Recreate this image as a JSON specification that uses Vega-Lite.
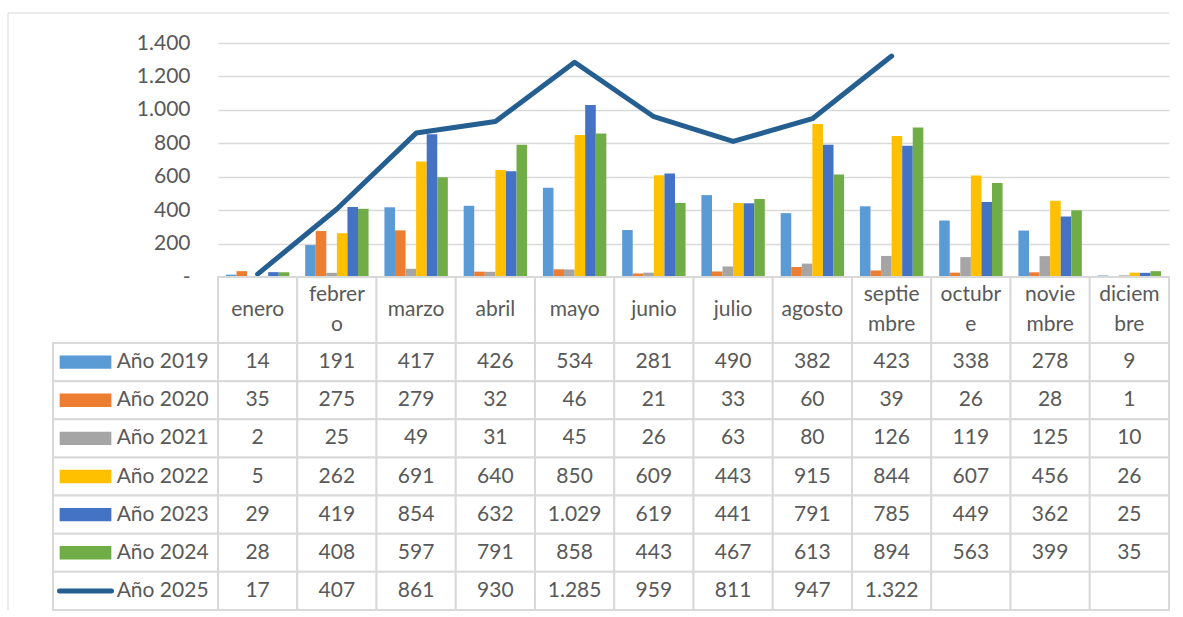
{
  "$schema": "https://vega.github.io/schema/vega-lite/v6.json",
  "padding": {"left": 7, "top": 12, "right": 0, "bottom": 0},
  "config": {
    "font": "Lato",
    "view": {"stroke": null},
    "locale": {"number": {"decimal": ",", "thousands": ".", "grouping": [3], "currency": ["", " €"]}}
  },
  "datasets": {
    "vacio": [{}],
    "meses": [
      {"mes": "enero", "etiqueta": "enero"},
      {"mes": "febrero", "etiqueta": "febrer\no"},
      {"mes": "marzo", "etiqueta": "marzo"},
      {"mes": "abril", "etiqueta": "abril"},
      {"mes": "mayo", "etiqueta": "mayo"},
      {"mes": "junio", "etiqueta": "junio"},
      {"mes": "julio", "etiqueta": "julio"},
      {"mes": "agosto", "etiqueta": "agosto"},
      {"mes": "septiembre", "etiqueta": "septie\nmbre"},
      {"mes": "octubre", "etiqueta": "octubr\ne"},
      {"mes": "noviembre", "etiqueta": "novie\nmbre"},
      {"mes": "diciembre", "etiqueta": "diciem\nbre"}
    ],
    "valores": [
      {"serie": "Año 2019", "mes": "enero", "valor": 14},
      {"serie": "Año 2019", "mes": "febrero", "valor": 191},
      {"serie": "Año 2019", "mes": "marzo", "valor": 417},
      {"serie": "Año 2019", "mes": "abril", "valor": 426},
      {"serie": "Año 2019", "mes": "mayo", "valor": 534},
      {"serie": "Año 2019", "mes": "junio", "valor": 281},
      {"serie": "Año 2019", "mes": "julio", "valor": 490},
      {"serie": "Año 2019", "mes": "agosto", "valor": 382},
      {"serie": "Año 2019", "mes": "septiembre", "valor": 423},
      {"serie": "Año 2019", "mes": "octubre", "valor": 338},
      {"serie": "Año 2019", "mes": "noviembre", "valor": 278},
      {"serie": "Año 2019", "mes": "diciembre", "valor": 9},
      {"serie": "Año 2020", "mes": "enero", "valor": 35},
      {"serie": "Año 2020", "mes": "febrero", "valor": 275},
      {"serie": "Año 2020", "mes": "marzo", "valor": 279},
      {"serie": "Año 2020", "mes": "abril", "valor": 32},
      {"serie": "Año 2020", "mes": "mayo", "valor": 46},
      {"serie": "Año 2020", "mes": "junio", "valor": 21},
      {"serie": "Año 2020", "mes": "julio", "valor": 33},
      {"serie": "Año 2020", "mes": "agosto", "valor": 60},
      {"serie": "Año 2020", "mes": "septiembre", "valor": 39},
      {"serie": "Año 2020", "mes": "octubre", "valor": 26},
      {"serie": "Año 2020", "mes": "noviembre", "valor": 28},
      {"serie": "Año 2020", "mes": "diciembre", "valor": 1},
      {"serie": "Año 2021", "mes": "enero", "valor": 2},
      {"serie": "Año 2021", "mes": "febrero", "valor": 25},
      {"serie": "Año 2021", "mes": "marzo", "valor": 49},
      {"serie": "Año 2021", "mes": "abril", "valor": 31},
      {"serie": "Año 2021", "mes": "mayo", "valor": 45},
      {"serie": "Año 2021", "mes": "junio", "valor": 26},
      {"serie": "Año 2021", "mes": "julio", "valor": 63},
      {"serie": "Año 2021", "mes": "agosto", "valor": 80},
      {"serie": "Año 2021", "mes": "septiembre", "valor": 126},
      {"serie": "Año 2021", "mes": "octubre", "valor": 119},
      {"serie": "Año 2021", "mes": "noviembre", "valor": 125},
      {"serie": "Año 2021", "mes": "diciembre", "valor": 10},
      {"serie": "Año 2022", "mes": "enero", "valor": 5},
      {"serie": "Año 2022", "mes": "febrero", "valor": 262},
      {"serie": "Año 2022", "mes": "marzo", "valor": 691},
      {"serie": "Año 2022", "mes": "abril", "valor": 640},
      {"serie": "Año 2022", "mes": "mayo", "valor": 850},
      {"serie": "Año 2022", "mes": "junio", "valor": 609},
      {"serie": "Año 2022", "mes": "julio", "valor": 443},
      {"serie": "Año 2022", "mes": "agosto", "valor": 915},
      {"serie": "Año 2022", "mes": "septiembre", "valor": 844},
      {"serie": "Año 2022", "mes": "octubre", "valor": 607},
      {"serie": "Año 2022", "mes": "noviembre", "valor": 456},
      {"serie": "Año 2022", "mes": "diciembre", "valor": 26},
      {"serie": "Año 2023", "mes": "enero", "valor": 29},
      {"serie": "Año 2023", "mes": "febrero", "valor": 419},
      {"serie": "Año 2023", "mes": "marzo", "valor": 854},
      {"serie": "Año 2023", "mes": "abril", "valor": 632},
      {"serie": "Año 2023", "mes": "mayo", "valor": 1029},
      {"serie": "Año 2023", "mes": "junio", "valor": 619},
      {"serie": "Año 2023", "mes": "julio", "valor": 441},
      {"serie": "Año 2023", "mes": "agosto", "valor": 791},
      {"serie": "Año 2023", "mes": "septiembre", "valor": 785},
      {"serie": "Año 2023", "mes": "octubre", "valor": 449},
      {"serie": "Año 2023", "mes": "noviembre", "valor": 362},
      {"serie": "Año 2023", "mes": "diciembre", "valor": 25},
      {"serie": "Año 2024", "mes": "enero", "valor": 28},
      {"serie": "Año 2024", "mes": "febrero", "valor": 408},
      {"serie": "Año 2024", "mes": "marzo", "valor": 597},
      {"serie": "Año 2024", "mes": "abril", "valor": 791},
      {"serie": "Año 2024", "mes": "mayo", "valor": 858},
      {"serie": "Año 2024", "mes": "junio", "valor": 443},
      {"serie": "Año 2024", "mes": "julio", "valor": 467},
      {"serie": "Año 2024", "mes": "agosto", "valor": 613},
      {"serie": "Año 2024", "mes": "septiembre", "valor": 894},
      {"serie": "Año 2024", "mes": "octubre", "valor": 563},
      {"serie": "Año 2024", "mes": "noviembre", "valor": 399},
      {"serie": "Año 2024", "mes": "diciembre", "valor": 35},
      {"serie": "Año 2025", "mes": "enero", "valor": 17},
      {"serie": "Año 2025", "mes": "febrero", "valor": 407},
      {"serie": "Año 2025", "mes": "marzo", "valor": 861},
      {"serie": "Año 2025", "mes": "abril", "valor": 930},
      {"serie": "Año 2025", "mes": "mayo", "valor": 1285},
      {"serie": "Año 2025", "mes": "junio", "valor": 959},
      {"serie": "Año 2025", "mes": "julio", "valor": 811},
      {"serie": "Año 2025", "mes": "agosto", "valor": 947},
      {"serie": "Año 2025", "mes": "septiembre", "valor": 1322},
      {"serie": "Año 2025", "mes": "octubre", "valor": null},
      {"serie": "Año 2025", "mes": "noviembre", "valor": null},
      {"serie": "Año 2025", "mes": "diciembre", "valor": null}
    ]
  },
  "bounds": "flush",
  "align": "each",
  "spacing": 0,
  "columns": 3,
  "concat": [
    {
      "width": 45, "height": 30,
      "data": {"name": "vacio"},
      "layer": [
        {"mark": {"type": "rule", "color": "#d9d9d9", "strokeWidth": 1},
         "encoding": {"y": {"datum": 1, "type": "quantitative", "scale": {"domain": [0, 1]}, "axis": null}}},
        {"mark": {"type": "rule", "color": "#d9d9d9", "strokeWidth": 1},
         "encoding": {"x": {"datum": 0, "type": "quantitative", "scale": {"domain": [0, 1]}, "axis": null}}}
      ]
    },
    {
      "width": 165, "height": 30,
      "data": {"name": "vacio"},
      "mark": {"type": "rule", "color": "#d9d9d9", "strokeWidth": 1},
      "encoding": {"y": {"datum": 1, "type": "quantitative", "scale": {"domain": [0, 1]}, "axis": null}}
    },
    {
      "width": 951, "height": 30,
      "data": {"name": "vacio"},
      "mark": {"type": "rule", "color": "#d9d9d9", "strokeWidth": 1},
      "encoding": {"y": {"datum": 1, "type": "quantitative", "scale": {"domain": [0, 1]}, "axis": null}}
    },
    {
      "width": 45, "height": 234,
      "data": {"name": "vacio"},
      "mark": {"type": "rule", "color": "#d9d9d9", "strokeWidth": 1},
      "encoding": {"x": {"datum": 0, "type": "quantitative", "scale": {"domain": [0, 1]}, "axis": null}}
    },
    {
      "width": 165, "height": 234,
      "data": {"name": "vacio"},
      "mark": {"type": "point", "opacity": 0},
      "encoding": {}
    },
    {
      "width": 951, "height": 234,
      "data": {"name": "valores"},
      "layer": [
        {
          "transform": [{"filter": "datum.serie != 'Año 2025'"}],
          "mark": {"type": "bar"},
          "encoding": {
            "x": {"field": "mes", "type": "nominal", "axis": null,
              "scale": {"domain": ["enero","febrero","marzo","abril","mayo","junio","julio","agosto","septiembre","octubre","noviembre","diciembre"], "paddingInner": 0.2, "paddingOuter": 0.1}},
            "xOffset": {"field": "serie", "type": "nominal",
              "scale": {"domain": ["Año 2019","Año 2020","Año 2021","Año 2022","Año 2023","Año 2024"], "paddingInner": 0, "paddingOuter": 0}},
            "y": {"field": "valor", "type": "quantitative",
              "scale": {"domain": [0, 1400], "nice": false},
              "axis": {"title": null, "values": [0,200,400,600,800,1000,1200,1400], "tickCount": 20, "format": ",d",
                "labelExpr": "datum.value == 0 ? '-' : datum.label", "labelOverlap": false,
                "grid": true, "gridColor": "#d9d9d9", "gridWidth": 1.5,
                "domain": false, "ticks": false, "labelPadding": 28,
                "labelFontSize": 21, "labelColor": "#595959", "labelFont": "Lato"}},
            "color": {"field": "serie", "type": "nominal", "legend": null,
              "scale": {"domain": ["Año 2019","Año 2020","Año 2021","Año 2022","Año 2023","Año 2024","Año 2025"],
                "range": ["#5B9BD5","#ED7D31","#A5A5A5","#FFC000","#4472C4","#70AD47","#255E91"]}}
          }
        },
        {
          "transform": [{"filter": "datum.serie == 'Año 2025' && datum.valor != null"}],
          "mark": {"type": "line", "color": "#255E91", "strokeWidth": 5, "strokeCap": "round", "strokeJoin": "round"},
          "encoding": {
            "x": {"field": "mes", "type": "nominal"},
            "y": {"field": "valor", "type": "quantitative"}
          }
        }
      ]
    },
    {
      "width": 45, "height": 66,
      "data": {"name": "vacio"},
      "mark": {"type": "rule", "color": "#d9d9d9", "strokeWidth": 1},
      "encoding": {"x": {"datum": 0, "type": "quantitative", "scale": {"domain": [0, 1]}, "axis": null}}
    },
    {
      "width": 165, "height": 66,
      "data": {"name": "vacio"},
      "mark": {"type": "point", "opacity": 0},
      "encoding": {}
    },
    {
      "width": 951, "height": 66,
      "data": {"name": "meses"},
      "layer": [
        {
          "mark": {"type": "rect", "fill": "white", "stroke": "#d9d9d9", "strokeWidth": 2},
          "encoding": {
            "x": {"field": "mes", "type": "nominal", "axis": null,
              "scale": {"domain": ["enero","febrero","marzo","abril","mayo","junio","julio","agosto","septiembre","octubre","noviembre","diciembre"], "paddingInner": 0, "paddingOuter": 0}}
          }
        },
        {
          "transform": [{"filter": "indexof(datum.etiqueta, '\\n') < 0"}],
          "mark": {"type": "text", "fontSize": 21, "color": "#595959", "baseline": "middle"},
          "encoding": {
            "x": {"field": "mes", "type": "nominal"},
            "text": {"field": "etiqueta"}
          }
        },
        {
          "transform": [{"filter": "indexof(datum.etiqueta, '\\n') >= 0"}],
          "mark": {"type": "text", "fontSize": 21, "color": "#595959", "lineBreak": "\n", "lineHeight": 30, "baseline": "middle", "dy": -15},
          "encoding": {
            "x": {"field": "mes", "type": "nominal"},
            "text": {"field": "etiqueta"}
          }
        }
      ]
    },
    {
      "width": 45, "height": 267,
      "data": {"name": "vacio"},
      "mark": {"type": "rule", "color": "#d9d9d9", "strokeWidth": 1},
      "encoding": {"x": {"datum": 0, "type": "quantitative", "scale": {"domain": [0, 1]}, "axis": null}}
    },
    {
      "width": 165, "height": 267,
      "data": {"name": "valores"},
      "transform": [{"filter": "datum.mes == 'enero'"}],
      "layer": [
        {
          "mark": {"type": "rect", "fill": "white", "stroke": "#d9d9d9", "strokeWidth": 2},
          "encoding": {
            "y": {"field": "serie", "type": "nominal", "axis": null,
              "scale": {"domain": ["Año 2019","Año 2020","Año 2021","Año 2022","Año 2023","Año 2024","Año 2025"], "paddingInner": 0, "paddingOuter": 0}}
          }
        },
        {
          "transform": [{"filter": "datum.serie != 'Año 2025'"}],
          "mark": {"type": "point", "shape": "M-1,-0.258L1,-0.258L1,0.258L-1,0.258Z", "filled": true, "size": 2673, "opacity": 1, "strokeWidth": 0},
          "encoding": {
            "y": {"field": "serie", "type": "nominal"},
            "x": {"datum": 0.197, "type": "quantitative", "axis": null, "scale": {"domain": [0, 1], "nice": false, "zero": false}},
            "color": {"field": "serie", "type": "nominal", "legend": null,
              "scale": {"domain": ["Año 2019","Año 2020","Año 2021","Año 2022","Año 2023","Año 2024","Año 2025"],
                "range": ["#5B9BD5","#ED7D31","#A5A5A5","#FFC000","#4472C4","#70AD47","#255E91"]}}
          }
        },
        {
          "transform": [{"filter": "datum.serie == 'Año 2025'"}],
          "mark": {"type": "point", "shape": "stroke", "filled": false, "size": 2704, "opacity": 1, "strokeWidth": 5, "strokeCap": "round", "color": "#255E91"},
          "encoding": {
            "y": {"field": "serie", "type": "nominal"},
            "x": {"datum": 0.197, "type": "quantitative"}
          }
        },
        {
          "mark": {"type": "text", "align": "left", "baseline": "middle", "fontSize": 21, "color": "#595959"},
          "encoding": {
            "y": {"field": "serie", "type": "nominal"},
            "x": {"datum": 0.386, "type": "quantitative"},
            "text": {"field": "serie"}
          }
        }
      ]
    },
    {
      "width": 951, "height": 267,
      "data": {"name": "valores"},
      "layer": [
        {
          "mark": {"type": "rect", "fill": "white", "stroke": "#d9d9d9", "strokeWidth": 2},
          "encoding": {
            "x": {"field": "mes", "type": "nominal", "axis": null,
              "scale": {"domain": ["enero","febrero","marzo","abril","mayo","junio","julio","agosto","septiembre","octubre","noviembre","diciembre"], "paddingInner": 0, "paddingOuter": 0}},
            "y": {"field": "serie", "type": "nominal", "axis": null,
              "scale": {"domain": ["Año 2019","Año 2020","Año 2021","Año 2022","Año 2023","Año 2024","Año 2025"], "paddingInner": 0, "paddingOuter": 0}}
          }
        },
        {
          "transform": [{"filter": "datum.valor != null"}],
          "mark": {"type": "text", "fontSize": 21, "color": "#595959", "baseline": "middle"},
          "encoding": {
            "x": {"field": "mes", "type": "nominal"},
            "y": {"field": "serie", "type": "nominal"},
            "text": {"field": "valor", "type": "quantitative", "format": ",d"}
          }
        }
      ]
    }
  ]
}
